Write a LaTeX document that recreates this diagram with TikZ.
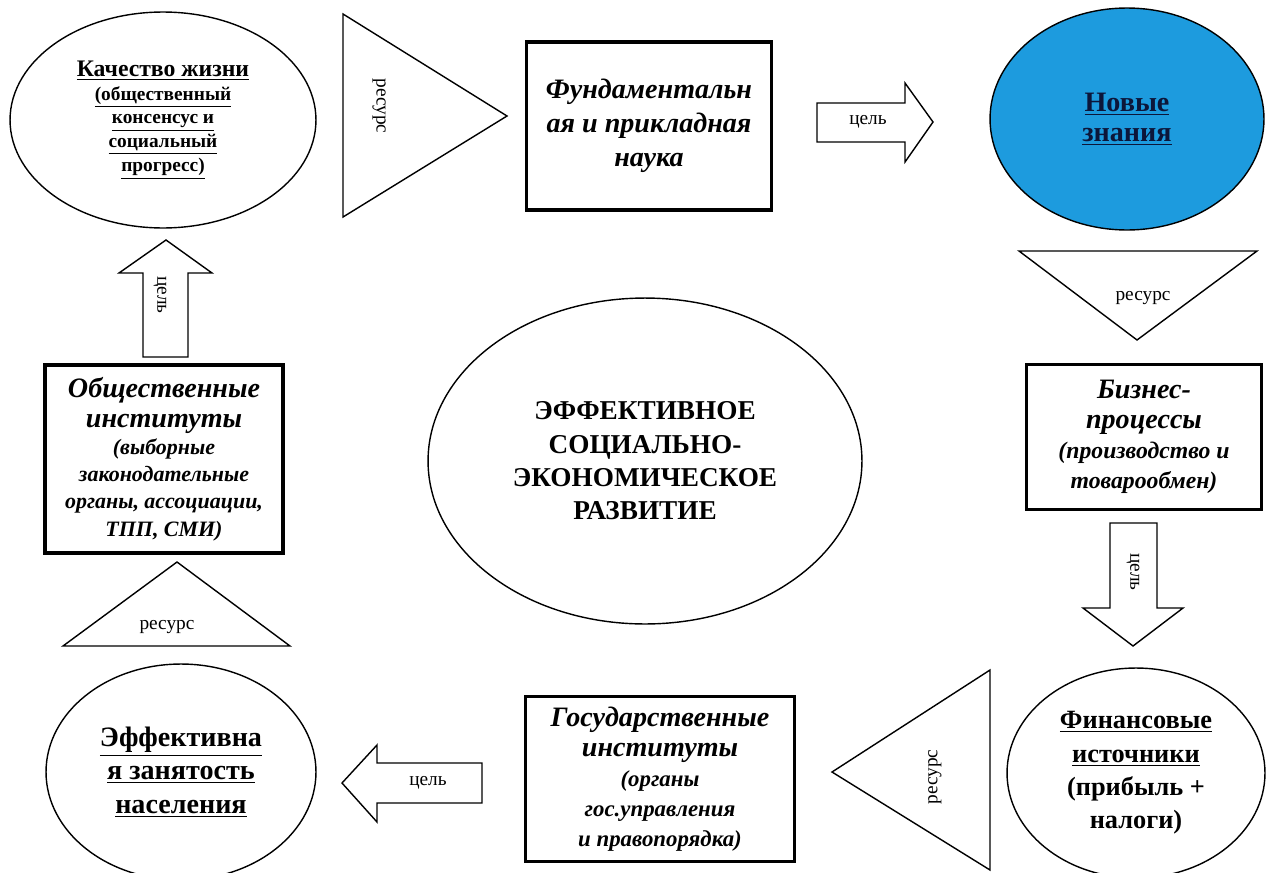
\documentclass[tikz,border=0pt]{standalone}
\usepackage{fontspec}
\setmainfont{Liberation Serif}
\usetikzlibrary{shapes.geometric}
\definecolor{knBlue}{RGB}{29,155,222}
\definecolor{knInk}{RGB}{12,22,58}

\begin{document}
\begin{tikzpicture}[x=0.02cm, y=-0.02cm,
  oval/.style={draw, ellipse, line width=0.8pt, inner sep=0pt, align=flush center},
  box/.style={draw, line width=2pt, inner sep=0pt, align=flush center},
  shp/.style={draw, line width=0.8pt, line join=miter},
  lbl/.style={inner sep=0pt, font=\fontsize{11}{13}\selectfont}
]
\useasboundingbox (0,0) rectangle (1266,872);
\clip (0,0) rectangle (1266,872);
\node[oval, minimum width=6.12cm, minimum height=4.32cm, text width=3.6cm,
      font=\bfseries\fontsize{11}{13.5}\selectfont] (KZ) at (163,120)
  {\fontsize{13.5}{14.5}\selectfont\underline{Качество жизни}\\
   \fontsize{11}{13.5}\selectfont\underline{(общественный}\\\underline{консенсус и}\\
   \underline{социальный}\\\underline{прогресс)}};
\node[oval, fill=knBlue, text=knInk, minimum width=5.48cm, minimum height=4.44cm,
      text width=2.4cm, font=\bfseries\fontsize{16}{17}\selectfont] (NZ) at (1127,119)
  {\underline{Новые}\\\underline{знания}};
\node[oval, minimum width=8.68cm, minimum height=6.52cm, text width=6cm,
      font=\bfseries\fontsize{15.5}{19}\selectfont] (ESR) at (645,461)
  {ЭФФЕКТИВНОЕ\\СОЦИАЛЬНО-\\ЭКОНОМИЧЕСКОЕ\\РАЗВИТИЕ};
\node[oval, minimum width=5.16cm, minimum height=4.2cm, text width=3.4cm,
      font=\bfseries\fontsize{15}{19}\selectfont] (FI) at (1136,773)
  {\underline{Финансовые}\\\underline{источники}\\(прибыль +\\налоги)};
\node[oval, minimum width=5.4cm, minimum height=4.32cm, text width=3.8cm,
      font=\bfseries\fontsize{16}{19}\selectfont] (EZ) at (181,772)
  {\underline{Эффективна}\\\underline{я занятость}\\\underline{населения}};
\node[box, minimum width=4.9cm, minimum height=3.36cm, text width=4.6cm,
      font=\bfseries\itshape\fontsize{16}{19.5}\selectfont] (FN) at (649,126)
  {Фундаментальн\\ая и прикладная\\наука};
\node[box, minimum width=4.7cm, minimum height=2.9cm, text width=4.5cm,
      font=\bfseries\itshape\fontsize{13.5}{17}\selectfont] (BP) at (1144,437)
  {\fontsize{16}{17}\selectfont Бизнес-\\процессы\\
   \fontsize{13.5}{17}\selectfont(производство и\\товарообмен)};
\node[box, minimum width=4.76cm, minimum height=3.76cm, text width=4.5cm,
      font=\bfseries\itshape\fontsize{12.5}{15.5}\selectfont] (OI) at (164,459)
  {\fontsize{16}{17}\selectfont Общественные\\институты\\
   \fontsize{12.5}{15.5}\selectfont(выборные\\законодательные\\органы, ассоциации,\\ТПП, СМИ)};
\node[box, minimum width=5.38cm, minimum height=3.3cm, text width=5.1cm,
      font=\bfseries\itshape\fontsize{13}{17}\selectfont] (GI) at (660,779)
  {\fontsize{16}{17}\selectfont Государственные\\институты\\
   \fontsize{13}{17}\selectfont(органы\\гос.управления\\и правопорядка)};
\draw[shp] (343,14) -- (343,217) -- (507,116) -- cycle;
\node[lbl, rotate=-90] (r1) at (379,106) {ресурс};
\draw[shp] (1019,251) -- (1257,251) -- (1137,340) -- cycle;
\node[lbl] (r2) at (1143,298) {ресурс};
\draw[shp] (990,670) -- (990,870) -- (832,772) -- cycle;
\node[lbl, rotate=90] (r3) at (935,777) {ресурс};
\draw[shp] (63,646) -- (290,646) -- (177,562) -- cycle;
\node[lbl] (r4) at (167,627) {ресурс};
\draw[shp] (817,103) -- (905,103) -- (905,83) -- (933,122) -- (905,162) -- (905,142)
  -- (817,142) -- cycle;
\node[lbl] (c1) at (868,122) {цель};
\draw[shp] (1110,523) -- (1157,523) -- (1157,608) -- (1183,608) -- (1133,646)
  -- (1083,608) -- (1110,608) -- cycle;
\node[lbl, rotate=-90] (c2) at (1133,572) {цель};
\draw[shp] (482,763) -- (482,803) -- (377,803) -- (377,822) -- (342,783) -- (377,745)
  -- (377,763) -- cycle;
\node[lbl] (c3) at (428,783) {цель};
\draw[shp] (143,357) -- (188,357) -- (188,273) -- (212,273) -- (166,240) -- (119,273)
  -- (143,273) -- cycle;
\node[lbl, rotate=-90] (c4) at (160,295) {цель};
\end{tikzpicture}
\end{document}
